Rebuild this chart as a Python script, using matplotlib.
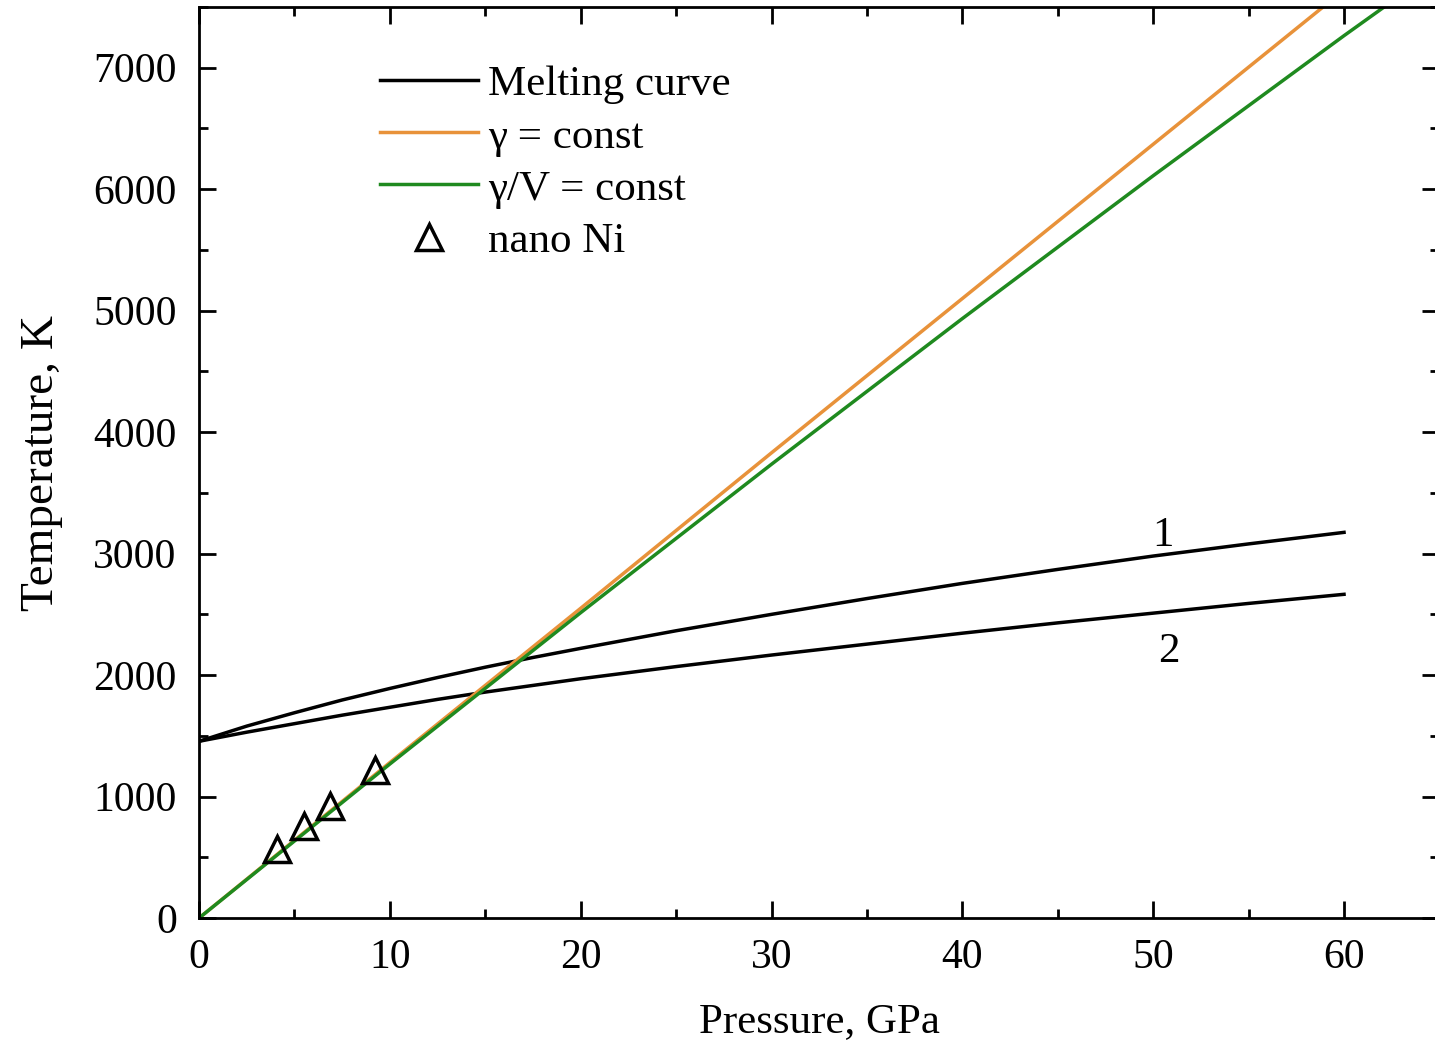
import matplotlib
matplotlib.use("Agg")
import matplotlib.pyplot as plt
from matplotlib.ticker import MultipleLocator

plt.rcParams.update({
    "font.family": ["Liberation Serif", "DejaVu Serif"],
    "font.size": 30,
    "axes.linewidth": 2.0,
})

ORANGE = "#E8923A"
GREEN = "#1F8A1F"

# melting curves (Simon-type), two parameter sets
p_melt = [0, 2.5, 5, 7.5, 10, 12.5, 15, 17.5, 20, 25, 30, 35, 40, 45, 50, 55, 60]
t_melt1 = [1455, 1580, 1690, 1795, 1890, 1980, 2065, 2145, 2220, 2365, 2500,
           2630, 2755, 2870, 2980, 3080, 3175]
t_melt2 = [1455, 1530, 1600, 1670, 1735, 1800, 1860, 1915, 1970, 2070, 2165,
           2255, 2345, 2430, 2510, 2590, 2665]

# thermal pressure lines
p_gam = [0, 10, 20, 30, 40, 50, 58.9]
t_gam = [0, 1280, 2550, 3830, 5100, 6370, 7500]
p_gv = [0, 10, 20, 30, 40, 50, 60, 62.1]
t_gv = [0, 1268, 2514, 3736, 4935, 6111, 7264, 7500]

# nano Ni experiment
p_nano = [4.07, 5.5, 6.87, 9.21]
t_nano = [567, 760, 925, 1217]

fig = plt.figure(figsize=(14.35, 10.45), dpi=100)
ax = fig.add_axes([0.1387, 0.1215, 0.8644, 0.8718])

ax.plot(p_melt, t_melt1, color="black", lw=2.5, label="Melting curve")
ax.plot(p_melt, t_melt2, color="black", lw=2.5)
ax.plot(p_gam, t_gam, color=ORANGE, lw=2.5, label="γ = const")
ax.plot(p_gv, t_gv, color=GREEN, lw=2.5, label="γ/V = const")
ax.plot(p_nano, t_nano, ls="none", marker="^", ms=19, mfc="none", mec="black",
        mew=2.5, label="nano Ni", zorder=5)

ax.text(50.5, 3150, "1", ha="center", va="center", fontsize=31)
ax.text(50.8, 2190, "2", ha="center", va="center", fontsize=31)

ax.set_xlim(0, 65)
ax.set_ylim(0, 7500)
ax.xaxis.set_major_locator(MultipleLocator(10))
ax.xaxis.set_minor_locator(MultipleLocator(5))
ax.yaxis.set_major_locator(MultipleLocator(1000))
ax.yaxis.set_minor_locator(MultipleLocator(500))
ax.tick_params(which="both", direction="in", top=True, right=True, width=2.0)
ax.tick_params(which="major", length=12)
ax.tick_params(which="minor", length=6.5)
ax.tick_params(axis="x", which="major", pad=15)
ax.tick_params(axis="y", which="major", pad=16)

ax.set_xlabel("Pressure, GPa", fontsize=31, labelpad=18)
ax.set_ylabel("Temperature, K", fontsize=34, labelpad=22)

ax.legend(loc="upper left", bbox_to_anchor=(0.146, 0.936), frameon=False,
          borderpad=0, borderaxespad=0, handlelength=2.28, handletextpad=0.23,
          labelspacing=0.3, fontsize=31)

fig.savefig("out.png", dpi=100)
